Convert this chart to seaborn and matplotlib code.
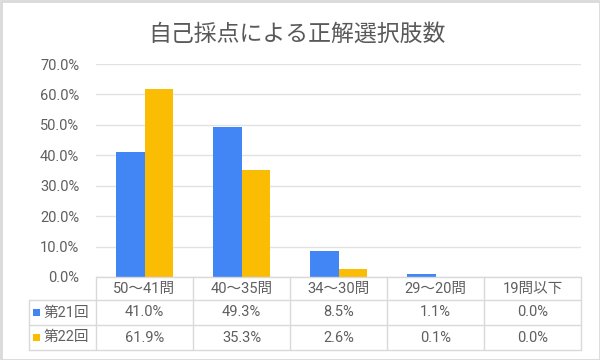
import matplotlib
matplotlib.use("Agg")
import matplotlib.pyplot as plt
import seaborn as sns
import pandas as pd
from matplotlib.transforms import blended_transform_factory
from matplotlib.patches import Rectangle
from matplotlib.ticker import FuncFormatter

categories = ["50～41問", "40～35問", "34～30問", "29～20問", "19問以下"]
series_names = ["第21回", "第22回"]
values_21 = [41.0, 49.3, 8.5, 1.1, 0.0]
values_22 = [61.9, 35.3, 2.6, 0.1, 0.0]
title = "自己採点による正解選択肢数"
colors = ["#4285F4", "#FBBC04"]

sns.set_theme(style="white")
plt.rcParams['font.family'] = ['Roboto', 'Noto Sans CJK JP', 'DejaVu Sans']

df = pd.DataFrame({
    "cat": categories * 2,
    "series": [series_names[0]] * 5 + [series_names[1]] * 5,
    "val": values_21 + values_22,
})

W, H = 600, 360
fig = plt.figure(figsize=(6, 3.6), dpi=100)
left, right, top, bottom = 96, 581, 64, 277
ax = fig.add_axes([left / W, 1 - bottom / H, (right - left) / W, (bottom - top) / H])

sns.barplot(data=df, x="cat", y="val", hue="series", palette=colors,
            width=0.58, gap=0, ax=ax, legend=False, saturation=1, linewidth=0)
ax.set_xlim(-0.5, 4.5)
ax.set_ylim(0, 70)
ax.set_yticks(range(0, 71, 10))
ax.yaxis.set_major_formatter(FuncFormatter(lambda v, p: f"{v:.1f}%"))
ax.tick_params(axis='y', length=0, labelsize=10.5, labelcolor="#5f5f5f", pad=12)
ax.set_xticks([])
ax.set_xlabel("")
ax.set_ylabel("")
for s in ax.spines.values():
    s.set_visible(False)
ax.grid(axis='y', color="#e2e2e2", linewidth=1)
ax.set_axisbelow(True)

# data table below the axes
tr = blended_transform_factory(ax.transData, ax.transAxes)
hpx = bottom - top
def ay(ypix):
    return (bottom - ypix) / hpx
lc = "#d9d9d9"
legx = -0.5 - (left - 29) / ((right - left) / 5)
y0, y1, y2, y3 = ay(277), ay(300), ay(325), ay(350)
lw = 1
ax.plot([-0.5, 4.5], [y0, y0], transform=tr, color=lc, lw=lw, clip_on=False)
for yy in (y1, y2, y3):
    ax.plot([legx, 4.5], [yy, yy], transform=tr, color=lc, lw=lw, clip_on=False)
ax.plot([legx, legx], [y1, y3], transform=tr, color=lc, lw=lw, clip_on=False)
for i in range(6):
    xx = i - 0.5
    ax.plot([xx, xx], [y0, y3], transform=tr, color=lc, lw=lw, clip_on=False)

tc = "#5f5f5f"
fs = 10.5
for i, c in enumerate(categories):
    ax.text(i, (y0 + y1) / 2, c, transform=tr, ha="center", va="center",
            fontsize=fs, color=tc, clip_on=False)
rows = [values_21, values_22]
key_px = [312, 337]
for r, (vals, yy) in enumerate(zip(rows, [(y1 + y2) / 2, (y2 + y3) / 2])):
    for i, v in enumerate(vals):
        ax.text(i, yy, f"{v:.1f}%", transform=tr, ha="center", va="center",
                fontsize=fs, color=tc, clip_on=False)
    fig.patches.append(Rectangle((33 / W, 1 - key_px[r] / H - 3.5 / H),
                                 7 / W, 7 / H, transform=fig.transFigure,
                                 facecolor=colors[r], edgecolor="none"))
    ax.text(legx + (44 - 29) / 97, yy, series_names[r], transform=tr, ha="left",
            va="center", fontsize=fs, color=tc, clip_on=False)

fig.text(297 / W, 1 - 34 / H, title, ha="center", va="center", fontsize=16.5,
         color="#595959")

fig.patches.append(Rectangle((0.5 / W, 0.5 / H), 1 - 1 / W, 1 - 1 / H,
                             transform=fig.transFigure, fill=False,
                             edgecolor="#d9d9d9", linewidth=2))

fig.savefig("out.png", dpi=100)
